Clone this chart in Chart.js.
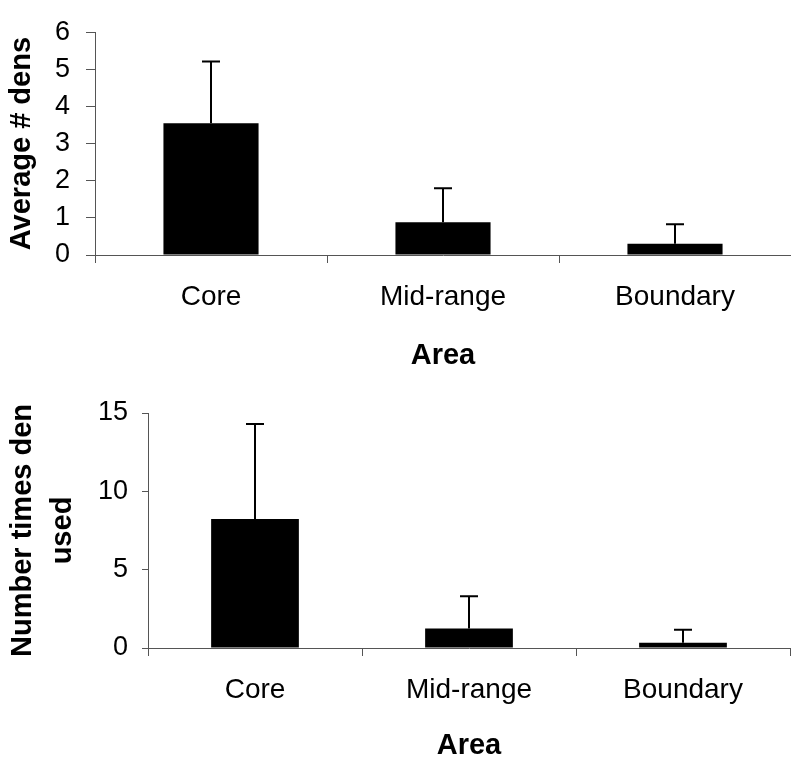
<!DOCTYPE html>
<html>
<head>
<meta charset="utf-8">
<script src="https://cdn.jsdelivr.net/npm/chart.js"></script>
<style>
  body { margin: 0; background: #fff; }
  .box { position: absolute; left: 0; }
</style>
</head>
<body>
<div class="box" style="top:0"><canvas id="topChart" width="791" height="380"></canvas></div>
<div class="box" style="top:380px"><canvas id="bottomChart" width="791" height="382"></canvas></div>
<script>
// shared categories
const areas = ['Core', 'Mid-range', 'Boundary'];

// top panel: average number of dens (mean and upper error)
const avgDens = [3.55, 0.88, 0.30];
const avgDensErr = [1.66, 0.92, 0.53];
const avgTicks = [0, 1, 2, 3, 4, 5, 6];

// bottom panel: number of times a den was used
const timesUsed = [8.23, 1.25, 0.34];
const timesUsedErr = [6.07, 2.05, 0.83];
const usedTicks = [0, 5, 10, 15];

const FONT = 'Liberation Sans, Arial, sans-serif';

// upper error bar with a cap, drawn on top of each bar
const errorBars = {
  id: 'errorBars',
  afterDatasetsDraw(chart) {
    const ctx = chart.ctx;
    const y = chart.scales.y;
    const ds = chart.data.datasets[0];
    const meta = chart.getDatasetMeta(0);
    ctx.save();
    ctx.strokeStyle = '#000';
    ctx.lineWidth = 2;
    meta.data.forEach((bar, i) => {
      const top = y.getPixelForValue(ds.data[i] + ds.errors[i]);
      ctx.beginPath();
      ctx.moveTo(bar.x, bar.y);
      ctx.lineTo(bar.x, top);
      ctx.moveTo(bar.x - 9, top);
      ctx.lineTo(bar.x + 9, top);
      ctx.stroke();
    });
    ctx.restore();
  }
};

function makeChart(id, values, errors, yTicks, yTitle, p) {
  return new Chart(document.getElementById(id), {
    type: 'bar',
    data: {
      labels: areas,
      datasets: [{
        data: values,
        errors: errors,
        backgroundColor: '#000',
        borderWidth: 0,
        categoryPercentage: 1,
        barPercentage: 0.41
      }]
    },
    options: {
      responsive: false,
      animation: false,
      devicePixelRatio: 1,
      layout: { padding: { top: p.padTop, right: p.padRight, bottom: 0, left: 0 } },
      plugins: { legend: { display: false }, tooltip: { enabled: false } },
      scales: {
        x: {
          grid: { drawOnChartArea: false, tickLength: 8, color: '#555', offset: true },
          border: { color: '#555', width: 1 },
          ticks: { color: '#000', font: { family: FONT, size: 28 }, padding: 17, maxRotation: 0 },
          title: {
            display: true, text: 'Area', color: '#000',
            font: { family: FONT, size: 29, weight: 'bold', lineHeight: 1 },
            padding: { top: 0, bottom: p.xTitlePad }
          },
          afterFit(s) { s.height = p.xHeight; }
        },
        y: {
          min: yTicks[0],
          max: yTicks[yTicks.length - 1],
          afterBuildTicks(s) { s.ticks = yTicks.map(v => ({ value: v })); },
          grid: { drawOnChartArea: false, tickLength: p.yTickLen, color: '#555' },
          border: { color: '#555', width: 1 },
          ticks: { color: '#000', font: { family: FONT, size: 27 }, padding: p.yTickPad },
          title: {
            display: true, text: yTitle, color: '#000',
            font: { family: FONT, size: 29, weight: 'bold', lineHeight: p.yLineHeight },
            padding: { top: p.yTitlePad, bottom: 0 }
          },
          afterFit(s) { s.width = p.yWidth; }
        }
      }
    },
    plugins: [errorBars]
  });
}

makeChart('topChart', avgDens, avgDensErr, avgTicks, 'Average # dens', {
  padTop: 17, padRight: 0, xHeight: 125, xTitlePad: 10,
  yWidth: 95, yTickLen: 9, yTickPad: 16, yLineHeight: 1.2, yTitlePad: 5
});

makeChart('bottomChart', timesUsed, timesUsedErr, usedTicks, ['Number times den', 'used'], {
  padTop: 33, padRight: 1, xHeight: 114, xTitlePad: 1.5,
  yWidth: 148, yTickLen: 6, yTickPad: 14, yLineHeight: '40px', yTitlePad: 2.5
});
</script>
</body>
</html>
